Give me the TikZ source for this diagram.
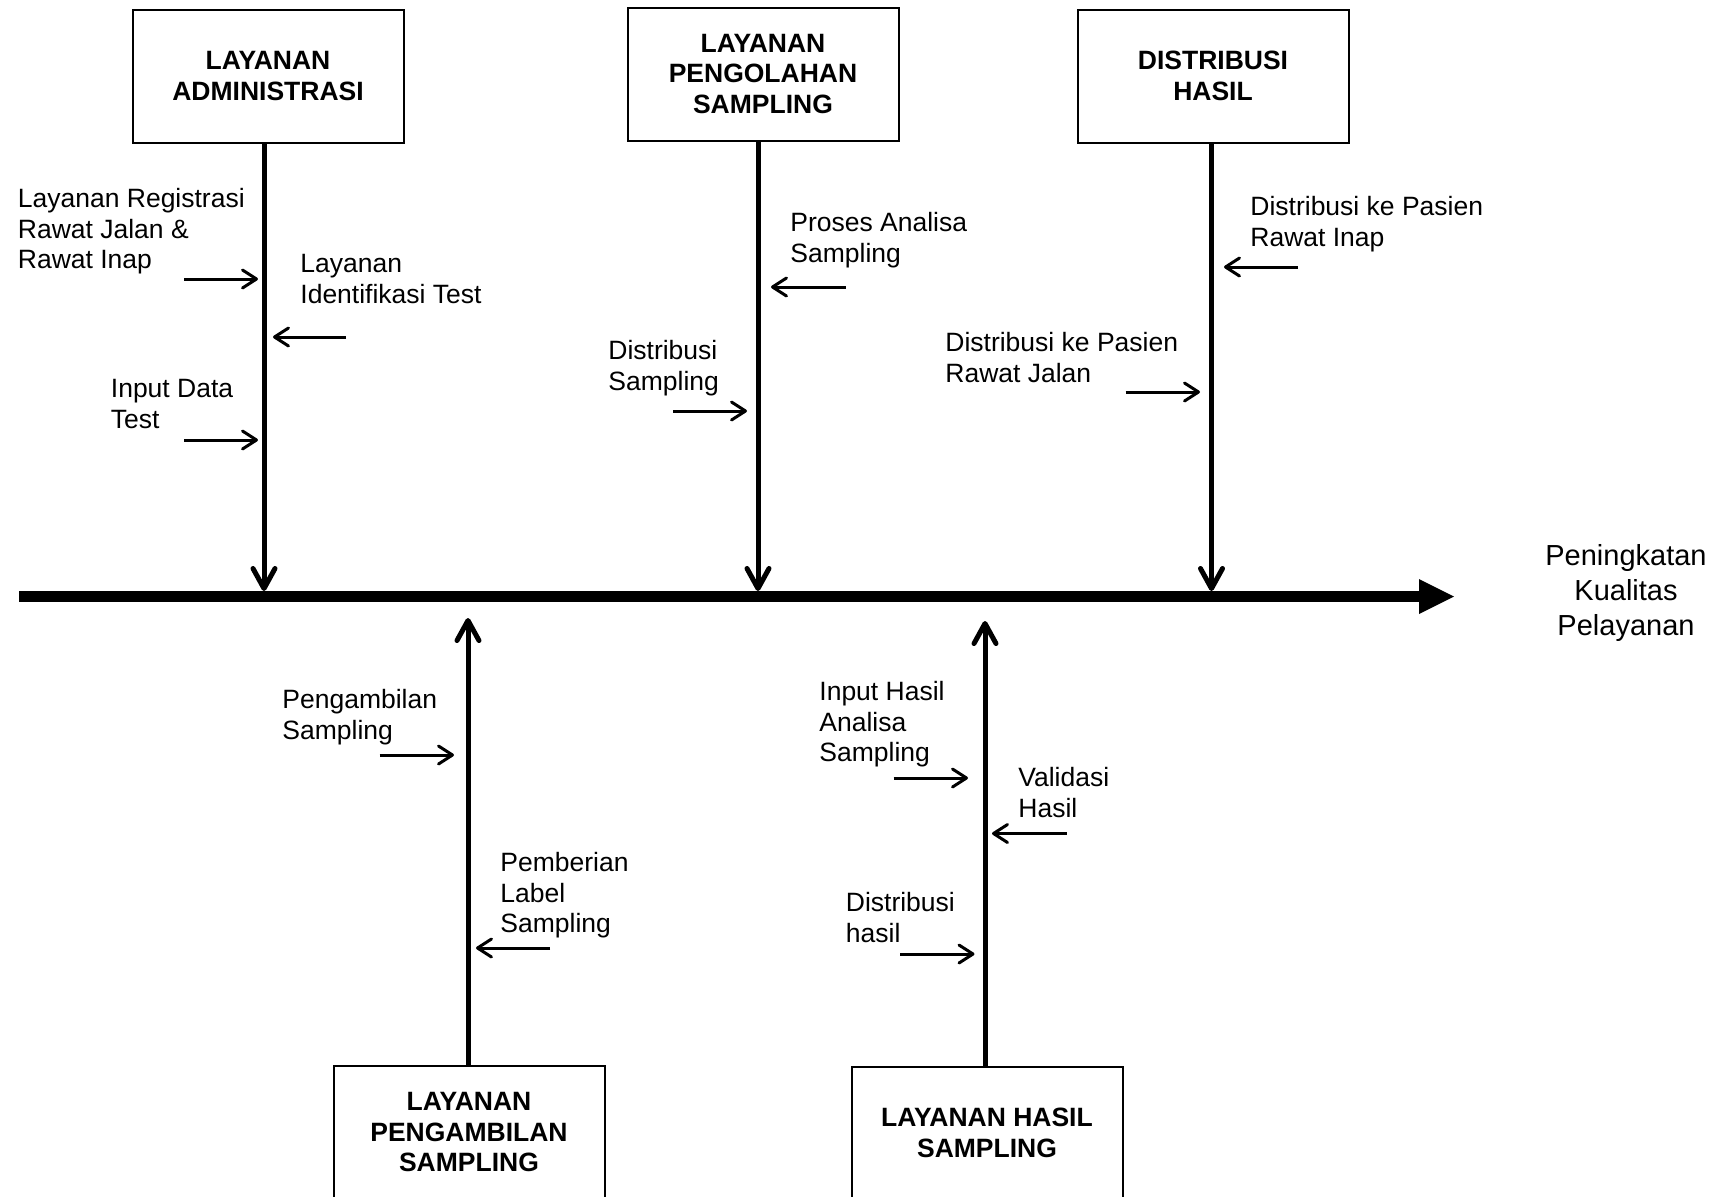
\documentclass[tikz,border=0pt]{standalone}
\usepackage{fontspec}
\setmainfont{Liberation Sans}
\usetikzlibrary{arrows.meta}

\begin{document}
\begin{tikzpicture}[x=0.5pt,y=-0.5pt,
  every node/.style={font=\fontsize{13.25pt}{15.25pt}\selectfont,inner sep=0pt},
  causebox/.style={draw,line width=1pt,minimum width=135.5pt,minimum height=66.5pt,align=center,
    font=\fontsize{13.25pt}{15.25pt}\selectfont\bfseries},
  cause/.style={anchor=north west,align=left},
  bone/.style={line width=2.5pt,-{Straight Barb[length=10pt,width=11pt,round]}},
  cue/.style={line width=1.5pt,-{Straight Barb[length=7pt,width=9pt,round]}}]

\useasboundingbox (0,0) rectangle (1715,1196);

\node[causebox] (adm) at (268,76) {LAYANAN\\ADMINISTRASI};
\node[causebox] (olah) at (763,74) {LAYANAN\\PENGOLAHAN\\SAMPLING};
\node[causebox] (dist) at (1213,76) {DISTRIBUSI\\HASIL};
\node[causebox] (ambil) at (469,1132) {LAYANAN\\PENGAMBILAN\\SAMPLING};
\node[causebox] (hasil) at (987,1133) {LAYANAN HASIL\\SAMPLING};

\node[font=\fontsize{14.5pt}{17.3pt}\selectfont,align=center] (goal) at (1626,593) {Peningkatan\\Kualitas\\Pelayanan};

% spine
\coordinate (tail) at (19,596.5);
\coordinate (head) at (1454,596.5);
\draw[line width=5.85pt,-{Triangle[length=17.5pt,width=17.5pt,line width=0pt]}] (tail) -- (head);

\coordinate (j1) at (264,591);
\coordinate (j2) at (758,591);
\coordinate (j3) at (1211.5,591);
\coordinate (j4) at (468,618);
\coordinate (j5) at (985,621);
\draw[bone] (adm.south -| j1) -- (j1);
\draw[bone] (olah.south -| j2) -- (j2);
\draw[bone] (dist.south -| j3) -- (j3);
\draw[bone] (ambil.north -| j4) -- (j4);
\draw[bone] (hasil.north -| j5) -- (j5);

% causes
\node[cause] (reg) at (17.5,188) {Layanan Registrasi\\Rawat Jalan \&\\Rawat Inap};
\node[cause] (ident) at (300,254) {Layanan\\Identifikasi Test};
\node[cause] (inp) at (110.5,379) {Input Data\\Test};
\node[cause] (proses) at (790,212) {Proses Analisa\\Sampling};
\node[cause] (dsamp) at (608,340) {Distribusi\\Sampling};
\node[cause] (inap) at (1250,196) {Distribusi ke Pasien\\Rawat Inap};
\node[cause] (jalan) at (945,332) {Distribusi ke Pasien\\Rawat Jalan};
\node[cause] (pamb) at (282,689) {Pengambilan\\Sampling};
\node[cause] (label) at (500,852) {Pemberian\\Label\\Sampling};
\node[cause] (inhas) at (819,681) {Input Hasil\\Analisa\\Sampling};
\node[cause] (valid) at (1018,767) {Validasi\\Hasil};
\node[cause] (dhas) at (845.5,892) {Distribusi\\hasil};

\coordinate (reg1) at (184,279); \coordinate (reg2) at (258,279);
\coordinate (ident1) at (346,337); \coordinate (ident2) at (273,337);
\coordinate (inp1) at (184,440); \coordinate (inp2) at (258,440);
\coordinate (proses1) at (845.5,287); \coordinate (proses2) at (771,287);
\coordinate (dsamp1) at (673,411); \coordinate (dsamp2) at (747,411);
\coordinate (inap1) at (1298,267); \coordinate (inap2) at (1224,267);
\coordinate (jalan1) at (1125.5,392); \coordinate (jalan2) at (1200,392);
\coordinate (pamb1) at (379.5,755); \coordinate (pamb2) at (454,755);
\coordinate (label1) at (550,948); \coordinate (label2) at (476,948);
\coordinate (inhas1) at (893.5,778); \coordinate (inhas2) at (968,778);
\coordinate (valid1) at (1066.5,833.5); \coordinate (valid2) at (992,833.5);
\coordinate (dhas1) at (900,954); \coordinate (dhas2) at (974.5,954);

\draw[cue] (reg1) -- (reg2);
\draw[cue] (ident1) -- (ident2);
\draw[cue] (inp1) -- (inp2);
\draw[cue] (proses1) -- (proses2);
\draw[cue] (dsamp1) -- (dsamp2);
\draw[cue] (inap1) -- (inap2);
\draw[cue] (jalan1) -- (jalan2);
\draw[cue] (pamb1) -- (pamb2);
\draw[cue] (label1) -- (label2);
\draw[cue] (inhas1) -- (inhas2);
\draw[cue] (valid1) -- (valid2);
\draw[cue] (dhas1) -- (dhas2);
\end{tikzpicture}
\end{document}
